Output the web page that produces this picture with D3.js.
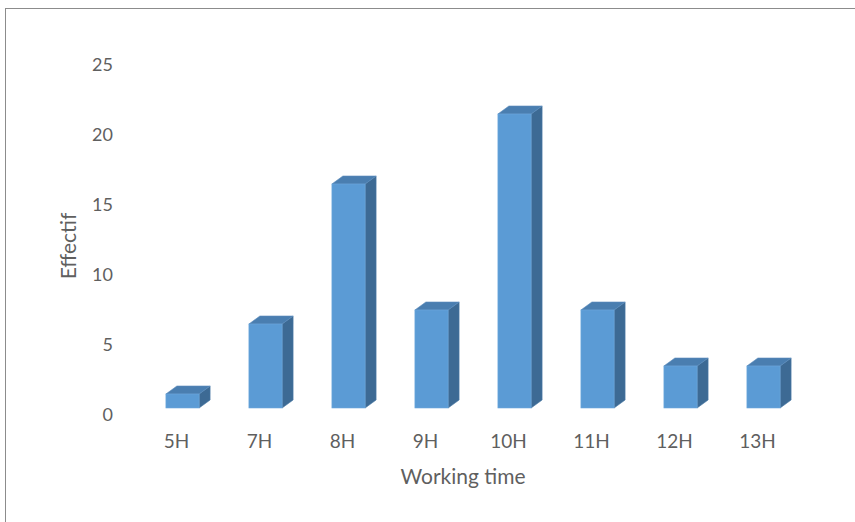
<!DOCTYPE html>
<html>
<head>
<meta charset="utf-8">
<script src="https://cdn.jsdelivr.net/npm/d3@7"></script>
<style>
  body { margin: 0; background: #fff; }
  svg { display: block; }
</style>
</head>
<body>
<svg width="855" height="522"></svg>
<script>
const categories = ["5H", "7H", "8H", "9H", "10H", "11H", "12H", "13H"];
const values = [1, 6, 16, 7, 21, 7, 3, 3];
const yTicks = [0, 5, 10, 15, 20, 25];

const svg = d3.select("svg");
const font = "Lato, 'Open Sans', sans-serif";
const textColor = "#5f5f5f";

// chart border (top and left edges visible)
svg.append("rect")
   .attr("x", 5.5).attr("y", 8.5)
   .attr("width", 900).attr("height", 600)
   .attr("fill", "none")
   .attr("stroke", "#8c8c8c")
   .attr("stroke-width", 1);

// scales: front face and back wall labels
const x = d3.scaleBand().domain(categories).range([141, 805]).paddingInner(0.6).paddingOuter(0.3);
const yFront = d3.scaleLinear().domain([0, 25]).range([408, 58]);
const yLabel = d3.scaleLinear().domain([0, 25]).range([415, 65]);

const dx = 11, dy = 8;

// y axis labels
svg.append("g").selectAll("text")
   .data(yTicks)
   .join("text")
   .attr("x", 113)
   .attr("y", d => yLabel(d))
   .attr("dy", "0.35em")
   .attr("text-anchor", "end")
   .attr("fill", textColor)
   .attr("font-size", "18px")
   .attr("font-family", font)
   .text(d => d);

// bars
const bars = svg.append("g").selectAll("g")
   .data(categories.map((c, i) => ({ c, v: values[i] })))
   .join("g");

// side face
bars.append("path")
   .attr("d", d => {
      const x1 = x(d.c) + x.bandwidth(), t = yFront(d.v), b = yFront(0);
      return `M${x1},${t} L${x1 + dx},${t - dy} L${x1 + dx},${b - dy} L${x1},${b} Z`;
   })
   .attr("fill", "#3d6a94")
   .attr("stroke", "#4a7aa6")
   .attr("stroke-width", 0.6);

// top face
bars.append("path")
   .attr("d", d => {
      const x0 = x(d.c), x1 = x0 + x.bandwidth(), t = yFront(d.v);
      return `M${x0},${t} L${x0 + dx},${t - dy} L${x1 + dx},${t - dy} L${x1},${t} Z`;
   })
   .attr("fill", "#4a7eb0")
   .attr("stroke", "#5a8cbc")
   .attr("stroke-width", 0.6);

// front face
bars.append("rect")
   .attr("x", d => x(d.c))
   .attr("y", d => yFront(d.v))
   .attr("width", x.bandwidth())
   .attr("height", d => yFront(0) - yFront(d.v))
   .attr("fill", "#5b9bd5")
   .attr("stroke", "#6fa8dc")
   .attr("stroke-width", 0.6);

// x axis labels
svg.append("g").selectAll("text")
   .data(categories)
   .join("text")
   .attr("x", d => x(d) + x.bandwidth() / 2 - 6)
   .attr("y", 441)
   .attr("dy", "0.35em")
   .attr("text-anchor", "middle")
   .attr("fill", textColor)
   .attr("font-size", "19px")
   .attr("font-family", font)
   .text(d => d);

// axis titles
svg.append("text")
   .attr("x", 463)
   .attr("y", 477)
   .attr("dy", "0.35em")
   .attr("text-anchor", "middle")
   .attr("fill", textColor)
   .attr("font-size", "21px")
   .attr("font-family", font)
   .text("Working time");

svg.append("text")
   .attr("transform", "translate(69,246) rotate(-90)")
   .attr("dy", "0.35em")
   .attr("text-anchor", "middle")
   .attr("fill", textColor)
   .attr("font-size", "21px")
   .attr("font-family", font)
   .text("Effectif");
</script>
</body>
</html>
